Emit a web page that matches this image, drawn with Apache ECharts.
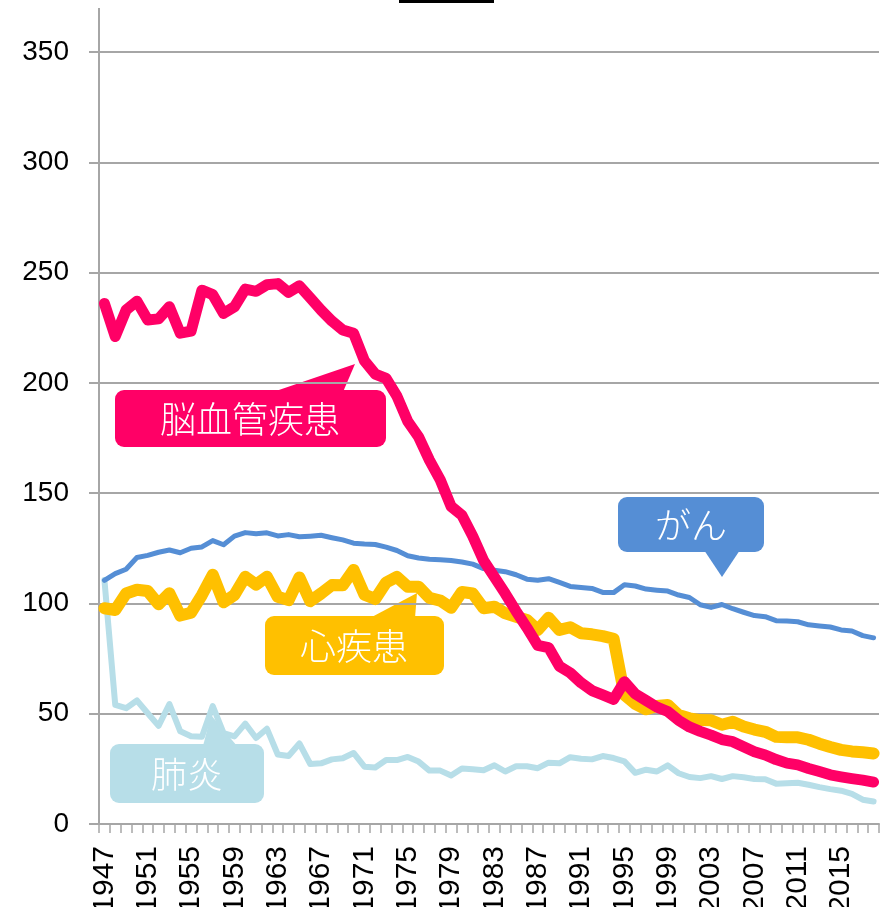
<!doctype html>
<html>
<head>
    <meta charset="utf-8">
    <title>死因別死亡率</title>
    <script src="https://cdn.jsdelivr.net/npm/echarts@6/dist/echarts.min.js"></script>
    <style>
        html, body { margin: 0; padding: 0; background: #fff; }
    </style>
</head>
<body>

    <div id="main" style="width:886px;height:907px;"></div>

    <script type="text/javascript">
        var years = [
            '1947','1948','1949','1950','1951','1952','1953','1954','1955','1956',
            '1957','1958','1959','1960','1961','1962','1963','1964','1965','1966',
            '1967','1968','1969','1970','1971','1972','1973','1974','1975','1976',
            '1977','1978','1979','1980','1981','1982','1983','1984','1985','1986',
            '1987','1988','1989','1990','1991','1992','1993','1994','1995','1996',
            '1997','1998','1999','2000','2001','2002','2003','2004','2005','2006',
            '2007','2008','2009','2010','2011','2012','2013','2014','2015','2016',
            '2017','2018'
        ];

        // 脳血管疾患
        var cerebro = [
            236, 221, 233, 237, 228.5, 229, 234.5, 222.5, 223.5, 242,
            240, 231.5, 234.5, 242.5, 241.5, 244.5, 245, 241, 244, 238.5,
            233, 228, 224, 222.5, 210, 204, 202, 194, 182.5, 175.5,
            165, 156, 144, 140, 130.5, 119.5, 112, 104.5, 96.5, 89,
            81, 80, 71.5, 68.5, 64, 60.5, 58.5, 56.5, 64.5, 59,
            56, 53, 51, 47, 44, 42, 40.3, 38.3, 37.3, 35,
            32.8, 31.3, 29.2, 27.6, 26.8, 25.2, 23.8, 22.3, 21.4, 20.6,
            19.9, 19
        ];

        // がん
        var cancer = [
            110.5, 113.5, 115.5, 120.8, 121.8, 123.2, 124.2, 123, 125, 125.6,
            128.5, 126.6, 130.5, 132.1, 131.6, 132, 130.6, 131.2, 130.2, 130.5,
            130.9, 129.8, 128.8, 127.3, 126.9, 126.7, 125.5, 124, 121.6, 120.6,
            120, 119.8, 119.5, 118.8, 117.8, 115.8, 115, 114.4, 113, 111,
            110.5, 111.2, 109.5, 107.7, 107.2, 106.8, 105, 104.9, 108.5, 107.9,
            106.5, 106, 105.6, 103.8, 102.7, 99.4, 98.2, 99.5, 97.6, 96,
            94.5, 94, 92.2, 92, 91.7, 90.3, 89.8, 89.3, 88, 87.5,
            85.4, 84.4
        ];

        // 心疾患
        var heart = [
            97.8, 97, 104.5, 106.2, 105.6, 99.6, 104.6, 94.5, 95.8, 103.8,
            113, 100.5, 103.8, 112.1, 108.5, 112.1, 103, 101.5, 111.8, 101,
            104.5, 108.3, 108.2, 115.2, 104, 102, 109.5, 112, 107.6, 107.6,
            102.5, 101.3, 98, 105.2, 104.5, 97.8, 98.5, 95.5, 94, 92.5,
            88, 93.5, 88, 89.2, 86.5, 86, 85.2, 84, 58.5, 54.5,
            52, 53.5, 54, 49.4, 47.9, 47.1, 47, 45, 46.3, 44.2,
            42.8, 41.8, 39.5, 39.3, 39.3, 38.2, 36.4, 34.9, 33.6, 32.9,
            32.5, 32
        ];

        // 肺炎
        var pneumonia = [
            110.6, 54, 52.5, 56, 50.2, 44.5, 54.4, 42, 39.8, 39.6,
            53.5, 41.2, 39.7, 45.5, 39, 43.2, 31.5, 30.8, 36.5, 27.2,
            27.5, 29.3, 29.8, 32.2, 26, 25.6, 29, 29, 30.4, 28.3,
            24.2, 24.2, 22, 25.2, 24.8, 24.4, 26.6, 23.8, 26.2, 26.2,
            25.3, 27.8, 27.5, 30.3, 29.6, 29.3, 30.8, 29.9, 28.4, 23.2,
            24.6, 23.8, 26.6, 23, 21.3, 20.8, 21.7, 20.4, 21.7, 21.2,
            20.4, 20.3, 18.3, 18.5, 18.7, 17.8, 16.7, 15.8, 15.1, 13.7,
            11, 10.2
        ];

        var gray = '#a6a6a6';
        var font = 'Liberation Sans';
        var cjk = '"Noto Sans CJK JP"';

        function callout(text, color, box, pointer, textPos) {
            return {
                type: 'group',
                z: 100,
                children: [{
                    type: 'polygon',
                    shape: { points: pointer },
                    style: { fill: color }
                }, {
                    type: 'rect',
                    shape: { x: box[0], y: box[1], width: box[2], height: box[3], r: 9 },
                    style: { fill: color }
                }, {
                    type: 'text',
                    style: {
                        text: text,
                        x: textPos[0],
                        y: textPos[1],
                        fill: '#fff',
                        font: '300 36px ' + cjk,
                        textAlign: 'center',
                        textVerticalAlign: 'middle'
                    }
                }]
            };
        }

        var chart = echarts.init(document.getElementById('main'));

        var option = {
            animation: false,
            backgroundColor: '#fff',
            grid: {
                left: 99,
                right: 7,
                top: 52,
                bottom: 83,
                containLabel: false,
                outerBoundsMode: 'none'
            },
            xAxis: {
                type: 'category',
                data: years,
                boundaryGap: true,
                axisLine: { lineStyle: { color: gray, width: 2 } },
                axisTick: {
                    show: true,
                    interval: 0,
                    length: 9,
                    lineStyle: { color: gray, width: 1.5 }
                },
                axisLabel: {
                    interval: 3,
                    rotate: 90,
                    margin: 22,
                    fontSize: 30,
                    fontFamily: font,
                    color: '#000'
                },
                splitLine: { show: false }
            },
            yAxis: {
                type: 'value',
                min: 0,
                max: 350,
                interval: 50,
                axisLine: { show: true, lineStyle: { color: gray, width: 2 } },
                axisTick: { show: true, length: 10, lineStyle: { color: gray, width: 2 } },
                axisLabel: {
                    margin: 30,
                    fontSize: 28,
                    fontFamily: font,
                    color: '#000'
                },
                splitLine: { show: true, lineStyle: { color: gray, width: 2 } }
            },
            series: [{
                name: '肺炎',
                type: 'line',
                data: pneumonia,
                symbol: 'none',
                lineStyle: { color: '#b7dee8', width: 6, cap: 'round', join: 'round' },
                z: 2
            }, {
                name: '心疾患',
                type: 'line',
                data: heart,
                symbol: 'none',
                lineStyle: { color: '#ffc000', width: 12, cap: 'round', join: 'round' },
                z: 3
            }, {
                name: 'がん',
                type: 'line',
                data: cancer,
                symbol: 'none',
                lineStyle: { color: '#558ed5', width: 5, cap: 'round', join: 'round' },
                z: 4
            }, {
                name: '脳血管疾患',
                type: 'line',
                data: cerebro,
                symbol: 'none',
                lineStyle: { color: '#ff0066', width: 11, cap: 'round', join: 'round' },
                z: 5
            }],
            graphic: [
                // y axis continues above the 350 line
                {
                    type: 'line',
                    shape: { x1: 99, y1: 8, x2: 99, y2: 52 },
                    style: { stroke: gray, lineWidth: 2 }
                },
                // edge of the cropped title box
                {
                    type: 'line',
                    shape: { x1: 399, y1: 1.5, x2: 494, y2: 1.5 },
                    style: { stroke: '#000', lineWidth: 3 }
                },
                callout('脳血管疾患', '#ff0066', [115, 390, 271, 57],
                    [[273, 392], [343, 392], [355, 364]], [250, 419]),
                callout('がん', '#558ed5', [618, 497, 146, 55],
                    [[704, 550], [740, 550], [722, 577]], [691, 525]),
                callout('心疾患', '#ffc000', [265, 616, 179, 59],
                    [[370, 618], [415, 618], [417, 593]], [354, 646]),
                callout('肺炎', '#b7dee8', [110, 744, 154, 59],
                    [[203, 746], [237, 746], [211, 715]], [187, 774])
            ]
        };

        chart.setOption(option);
    </script>
</body>
</html>
